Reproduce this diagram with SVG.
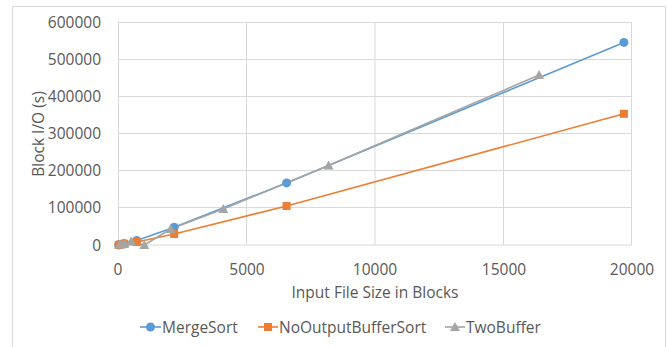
<svg xmlns="http://www.w3.org/2000/svg" width="667" height="347" viewBox="0 0 667 347">
<style>
.grid{stroke:#d9d9d9;stroke-width:1;fill:none}
.frame{stroke:#d9d9d9;stroke-width:1;fill:none}
.t{font-family:"Open Sans","Liberation Sans",sans-serif;font-size:15.5px;fill:#595959}
.yl{text-anchor:end}
.xl{text-anchor:middle}
.s1{stroke:#5B9BD5;stroke-width:1.6;fill:none;stroke-linejoin:round}
.s2{stroke:#ED7D31;stroke-width:1.6;fill:none;stroke-linejoin:round}
.s3{stroke:#A5A5A5;stroke-width:1.6;fill:none;stroke-linejoin:round}
.m1{fill:#5B9BD5}
.m2{fill:#ED7D31}
.m3{fill:#A5A5A5}
</style>
<defs>
<circle id="mc" r="4.5" class="m1"/>
<rect id="ms" x="-4" y="-4" width="8" height="8" class="m2"/>
<polygon id="mt" points="0,-5 5,4 -5,4" class="m3"/>
</defs>
<rect x="0" y="0" width="667" height="347" fill="#ffffff"/>
<g id="frame">
<path class="frame" d="M12.5,348 V6.5 H665.5 V348"/>
</g>
<g id="gridlines">
<path class="grid" d="M118,22.5 H632 M118,59.5 H632 M118,96.5 H632 M118,133.5 H632 M118,170.5 H632 M118,207.5 H632 M118,245 H632"/>
<path class="grid" d="M118.5,22 V245 M246.5,22 V245 M375,22 V245 M503.5,22 V245 M631.5,22 V245"/>
</g>
<g id="y-axis-labels" class="t yl">
<text x="101" y="28">600000</text>
<text x="101" y="65">500000</text>
<text x="101" y="102">400000</text>
<text x="101" y="139">300000</text>
<text x="101" y="176">200000</text>
<text x="101" y="213">100000</text>
<text x="101" y="251">0</text>
</g>
<g id="x-axis-labels" class="t xl">
<text x="118" y="275">0</text>
<text x="247" y="275">5000</text>
<text x="375" y="275">10000</text>
<text x="504" y="275">15000</text>
<text x="632" y="275">20000</text>
</g>
<g id="axis-titles" class="t">
<text x="375" y="298" text-anchor="middle">Input File Size in Blocks</text>
<text transform="translate(44,134) rotate(-90)" text-anchor="middle">Block I/O (s)</text>
</g>
<g id="connectors">
<polyline id="line-mergesort" class="s1" points="118.7,245 120.1,244.5 124.2,243.5 136.7,240.5 174.2,227.2 286.6,182.9 623.9,42.4"/>
<polyline id="line-nooutput" class="s2" points="118.7,245 120.1,244.6 124.2,243.8 136.7,242 174.2,234 286.6,206 623.9,113.8"/>
<polyline id="line-twobuffer" class="s3" points="119.6,244.6 121.3,244.2 124.6,243.4 131.2,241.5 144.3,245 170.6,229 223.3,209 328.5,165.5 539.1,75"/>
</g>
<g id="markers-mergesort">
<use href="#mc" x="118.7" y="245"/>
<use href="#mc" x="120.1" y="244.5"/>
<use href="#mc" x="124.2" y="243.5"/>
<use href="#mc" x="136.7" y="240.5"/>
<use href="#mc" x="174.2" y="227.2"/>
<use href="#mc" x="286.6" y="182.9"/>
<use href="#mc" x="623.9" y="42.4"/>
</g>
<g id="markers-nooutput">
<use href="#ms" x="118.7" y="245"/>
<use href="#ms" x="120.1" y="244.6"/>
<use href="#ms" x="124.2" y="243.8"/>
<use href="#ms" x="136.7" y="242"/>
<use href="#ms" x="174.2" y="234"/>
<use href="#ms" x="286.6" y="206"/>
<use href="#ms" x="623.9" y="113.8"/>
</g>
<g id="markers-twobuffer">
<use href="#mt" x="119.6" y="244.6"/>
<use href="#mt" x="121.3" y="244.2"/>
<use href="#mt" x="124.6" y="243.4"/>
<use href="#mt" x="131.2" y="241.5"/>
<use href="#mt" x="144.3" y="245"/>
<use href="#mt" x="170.6" y="229"/>
<use href="#mt" x="223.3" y="209"/>
<use href="#mt" x="328.5" y="165.5"/>
<use href="#mt" x="539.1" y="75"/>
</g>
<g id="legend">
<g id="legend-mergesort">
<line class="s1" x1="140" y1="327" x2="161" y2="327"/>
<use href="#mc" x="150.5" y="327"/>
<text class="t" x="162" y="332.5">MergeSort</text>
</g>
<g id="legend-nooutput">
<line class="s2" x1="258" y1="327" x2="278" y2="327"/>
<use href="#ms" x="268" y="327"/>
<text class="t" x="279" y="332.5">NoOutputBufferSort</text>
</g>
<g id="legend-twobuffer">
<line class="s3" x1="445" y1="327" x2="465" y2="327"/>
<use href="#mt" x="455" y="327"/>
<text class="t" x="466" y="332.5">TwoBuffer</text>
</g>
</g>
</svg>
